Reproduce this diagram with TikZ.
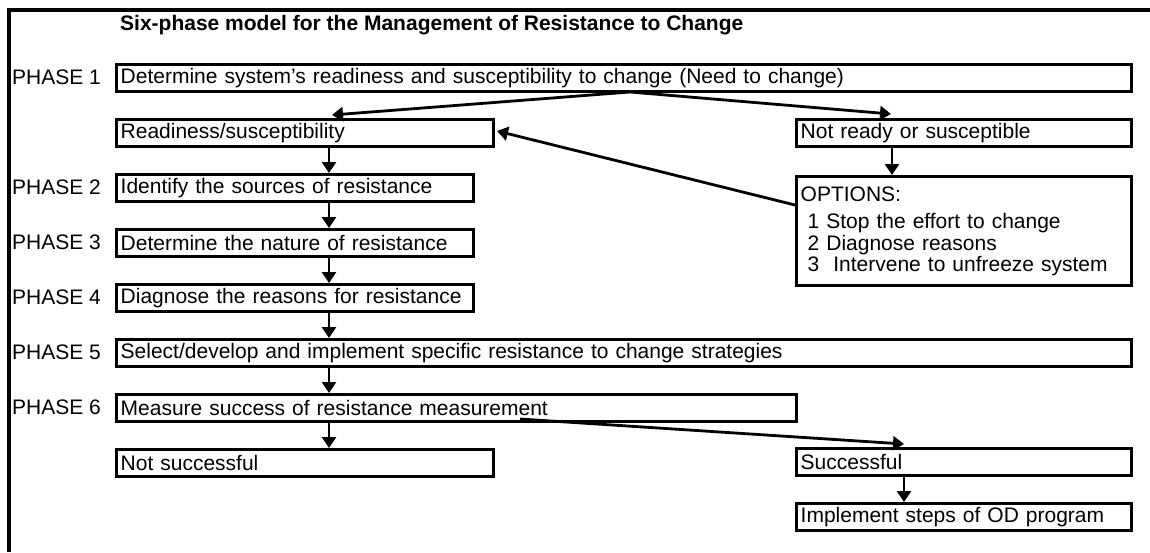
\documentclass[tikz,border=0pt]{standalone}
\usepackage{fontspec}
\setmainfont{Liberation Sans}
\usetikzlibrary{arrows.meta,calc}
\begin{document}
\begin{tikzpicture}[x=1pt,y=-1pt,
  box/.style={draw, line width=3.4pt, anchor=north west, inner xsep=4pt, inner ysep=0pt,
    minimum height=27pt, align=left, font=\fontsize{21}{21.5}\selectfont},
  phase/.style={anchor=west, inner sep=0pt, font=\fontsize{21}{25}\selectfont},
  arr/.style={line width=2.8pt, -{Triangle[width=14pt,length=11pt]}},
  frame/.style={line width=4.5pt}]
\useasboundingbox (0,0) rectangle (1150,552);

% outer frame (top and left edges only)
\draw[frame] (9,552) -- (9,10) -- (1150,10);

% title
\node[anchor=base west, inner sep=0pt, font=\bfseries\fontsize{21}{25}\selectfont] (title) at (120,30)
  {Six-phase model for the Management of Resistance to Change};

% phase labels
\node[phase] (l1) at (12,77) {PHASE 1};
\node[phase] (l2) at (12,187) {PHASE 2};
\node[phase] (l3) at (12,242) {PHASE 3};
\node[phase] (l4) at (12,297) {PHASE 4};
\node[phase] (l5) at (12,352) {PHASE 5};
\node[phase] (l6) at (12,407) {PHASE 6};

% boxes
\node[box, text width=1007pt] (p1) at (115,63) {Determine system's readiness and susceptibility to change (Need to change)};
\node[box, text width=369pt] (ready) at (115,118) {Readiness/susceptibility};
\node[box, text width=327pt] (notready) at (795,118) {Not ready or susceptible};
\node[box, text width=349pt] (p2) at (115,173) {Identify the sources of resistance};
\node[box, text width=327pt, minimum height=109pt] (opt) at (795,175)
  {OPTIONS:\\[6pt]\ 1 Stop the effort to change\\\ 2 Diagnose reasons\\\ 3\ \ Intervene to unfreeze system};
\node[box, text width=349pt] (p3) at (115,228) {Determine the nature of resistance};
\node[box, text width=349pt] (p4) at (115,283) {Diagnose the reasons for resistance};
\node[box, text width=1007pt] (p5) at (115,338) {Select/develop and implement specific resistance to change strategies};
\node[box, text width=672pt] (p6) at (115,393) {Measure success of resistance measurement};
\node[box, text width=369pt] (fail) at (115,448) {Not successful};
\node[box, text width=327pt] (succ) at (795,447) {Successful};
\node[box, text width=327pt] (impl) at (795,502) {Implement steps of OD program};

% reference points for arrow columns and free ends
\coordinate (cl) at (329,0);
\coordinate (cr) at (892,0);
\coordinate (cs) at (904,0);
\coordinate (split) at (630,92);
\coordinate (tipL) at (332,115);
\coordinate (tipR) at (891,114);
\coordinate (optOut) at (795,205);
\coordinate (readyIn) at (497,131);
\coordinate (p6Out) at (520,419);
\coordinate (succIn) at (904,444);

% connectors
\draw[arr] (split) -- (tipL);
\draw[arr] (split) -- (tipR);
\draw[arr] (optOut) -- (readyIn);
\draw[arr] (ready.south -| cl) -- (p2.north -| cl);
\draw[arr] (p2.south -| cl) -- (p3.north -| cl);
\draw[arr] (p3.south -| cl) -- (p4.north -| cl);
\draw[arr] (p4.south -| cl) -- (p5.north -| cl);
\draw[arr] (p5.south -| cl) -- (p6.north -| cl);
\draw[arr] (p6.south -| cl) -- (fail.north -| cl);
\draw[arr] (notready.south -| cr) -- (opt.north -| cr);
\draw[arr] (p6Out) -- (succIn);
\draw[arr] (succ.south -| cs) -- (impl.north -| cs);
\end{tikzpicture}
\end{document}
